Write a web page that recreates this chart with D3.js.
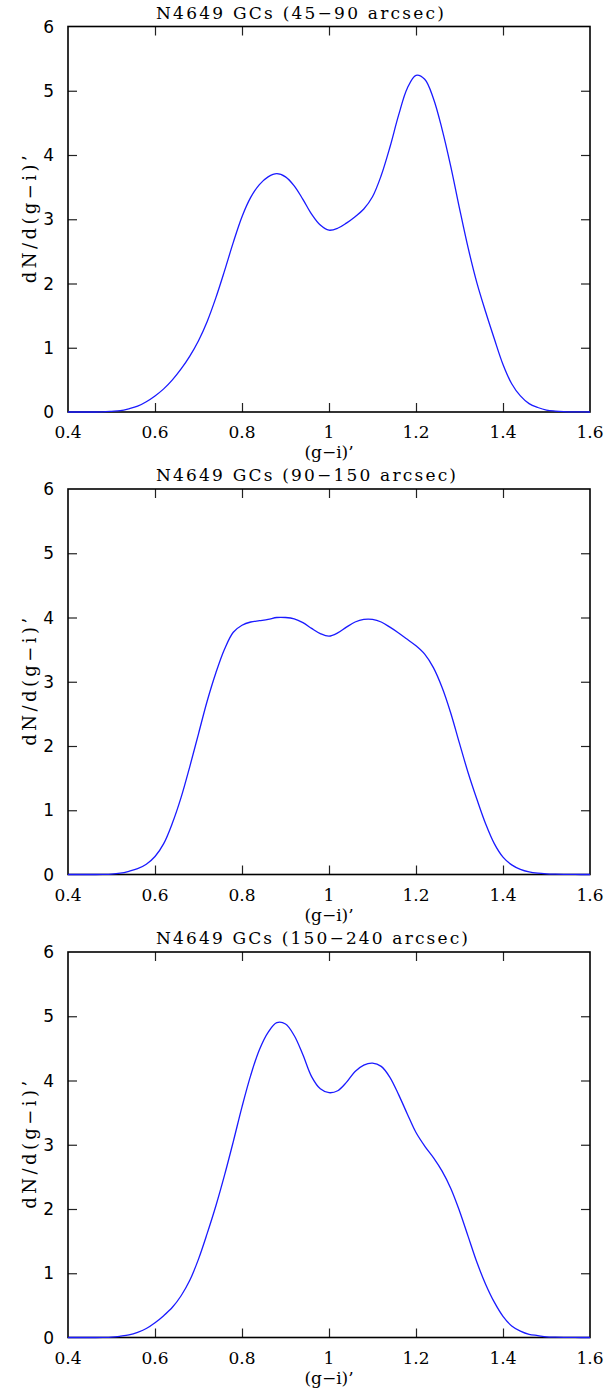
<!DOCTYPE html>
<html><head><meta charset="utf-8">
<script src="https://cdn.jsdelivr.net/npm/d3@7/dist/d3.min.js"></script>
<style>body{margin:0;background:#fff}svg{display:block}</style>
</head><body>
<svg id="chart" width="610" height="1391"></svg>
<script>
// ---- data ----
const titles = ["N4649 GCs (45\u221290 arcsec)", "N4649 GCs (90\u2212150 arcsec)", "N4649 GCs (150\u2212240 arcsec)"];
const xLabel = "(g\u2212i)\u2019";
const yLabel = "dN/d(g\u2212i)\u2019";
const xTicks = [0.4, 0.6, 0.8, 1.0, 1.2, 1.4, 1.6];
const xTickLabels = ["0.4", "0.6", "0.8", "1", "1.2", "1.4", "1.6"];
const yTicks = [0, 1, 2, 3, 4, 5, 6];
const yTickLabels = ["0", "1", "2", "3", "4", "5", "6"];
const colour = [0.40,0.42,0.44,0.46,0.48,0.50,0.52,0.54,0.56,0.58,
  0.60,0.62,0.64,0.66,0.68,0.70,0.72,0.74,0.76,0.78,
  0.80,0.82,0.84,0.86,0.88,0.90,0.92,0.94,0.96,0.98,
  1.00,1.02,1.04,1.06,1.08,1.10,1.12,1.14,1.16,1.18,
  1.20,1.22,1.24,1.26,1.28,1.30,1.32,1.34,1.36,1.38,
  1.40,1.42,1.44,1.46,1.48,1.50,1.52,1.54,1.56,1.58,1.60];
const density45_90 = [0,0,0,0,0.002,0.01,0.02,0.05,0.09,0.16,
  0.25,0.36,0.50,0.67,0.87,1.11,1.41,1.78,2.20,2.64,
  3.04,3.34,3.54,3.66,3.71,3.66,3.52,3.31,3.08,2.91,
  2.83,2.86,2.94,3.04,3.16,3.35,3.68,4.12,4.62,5.04,
  5.24,5.18,4.88,4.40,3.82,3.17,2.55,2.01,1.56,1.14,
  0.74,0.44,0.25,0.13,0.07,0.03,0.015,0.007,0.003,0.001,0];
const density90_150 = [0,0,0,0,0.001,0.005,0.02,0.05,0.09,0.16,
  0.28,0.48,0.80,1.20,1.68,2.19,2.70,3.14,3.51,3.77,
  3.88,3.93,3.95,3.97,4.00,4.00,3.98,3.92,3.83,3.75,
  3.71,3.76,3.85,3.93,3.97,3.97,3.93,3.85,3.76,3.66,
  3.56,3.43,3.22,2.91,2.51,2.04,1.58,1.17,0.79,0.48,
  0.27,0.15,0.08,0.04,0.02,0.01,0.005,0.002,0.001,0,0];
const density150_240 = [0,0,0,0,0.001,0.005,0.02,0.04,0.08,0.14,
  0.23,0.34,0.47,0.65,0.89,1.22,1.62,2.05,2.53,3.05,
  3.59,4.08,4.48,4.75,4.90,4.88,4.70,4.40,4.06,3.87,
  3.81,3.84,3.97,4.14,4.24,4.27,4.22,4.05,3.78,3.48,
  3.19,2.98,2.80,2.59,2.32,1.97,1.57,1.17,0.83,0.55,
  0.33,0.18,0.10,0.05,0.03,0.01,0.005,0.002,0.001,0,0];
const panels = [density45_90, density90_150, density150_240];

// ---- layout ----
const svg = d3.select("#chart");
const left = 68, right = 590, plotH = 385.5;
const tops = [26.5, 489, 952];
const titleW = [288, 300, 312];
const x = d3.scaleLinear().domain([0.4, 1.6]).range([left, right]);

panels.forEach((vals, i) => {
  const top = tops[i], bottom = top + plotH;
  const y = d3.scaleLinear().domain([0, 6]).range([bottom, top]);
  const g = svg.append("g");

  // ticks (inward, all four sides)
  const tl = 9;
  const xt = xTicks.slice(1, -1);
  const yt = yTicks.slice(1, -1);
  g.append("g").attr("transform", `translate(0,${bottom})`)
    .call(d3.axisTop(x).tickValues(xt).tickSize(tl).tickFormat(""))
    .call(s => s.select(".domain").remove());
  g.append("g").attr("transform", `translate(0,${top})`)
    .call(d3.axisBottom(x).tickValues(xt).tickSize(tl).tickFormat(""))
    .call(s => s.select(".domain").remove());
  g.append("g").attr("transform", `translate(${left},0)`)
    .call(d3.axisRight(y).tickValues(yt).tickSize(tl).tickFormat(""))
    .call(s => s.select(".domain").remove());
  g.append("g").attr("transform", `translate(${right},0)`)
    .call(d3.axisLeft(y).tickValues(yt).tickSize(tl).tickFormat(""))
    .call(s => s.select(".domain").remove());
  g.selectAll(".tick line").attr("stroke", "#222").attr("stroke-width", 1.2);

  // frame
  g.append("rect").attr("x", left).attr("y", top)
    .attr("width", right - left).attr("height", plotH)
    .attr("fill", "none").attr("stroke", "#000").attr("stroke-width", 1.6);

  // x tick labels
  g.selectAll(".xl").data(xTicks).enter().append("text")
    .attr("x", d => x(d)).attr("y", bottom + 26)
    .attr("text-anchor", "middle")
    .attr("font-family", "DejaVu Serif").attr("font-size", 17)
    .text((d, j) => xTickLabels[j]);

  // y tick labels
  g.selectAll(".yl").data(yTicks).enter().append("text")
    .attr("x", left - 14).attr("y", d => y(d) + 6)
    .attr("text-anchor", "end")
    .attr("font-family", "DejaVu Sans").attr("font-size", 17)
    .text((d, j) => yTickLabels[j]);

  // title
  g.append("text").attr("x", 156).attr("y", top - 8)
    .attr("font-family", "DejaVu Serif").attr("font-size", 17)
    .attr("textLength", titleW[i]).attr("lengthAdjust", "spacing")
    .text(titles[i]);

  // x label
  g.append("text").attr("x", (left + right) / 2).attr("y", bottom + 46)
    .attr("text-anchor", "middle")
    .attr("font-family", "DejaVu Serif").attr("font-size", 17)
    .text(xLabel);

  // y label
  g.append("text")
    .attr("transform", `translate(36,${(top + bottom) / 2}) rotate(-90)`)
    .attr("text-anchor", "middle")
    .attr("font-family", "DejaVu Serif").attr("font-size", 18)
    .attr("textLength", 128).attr("lengthAdjust", "spacing")
    .text(yLabel);

  // curve
  const line = d3.line().x((d, j) => x(colour[j])).y(d => y(d)).curve(d3.curveCatmullRom.alpha(0.5));
  g.append("path").datum(vals)
    .attr("d", line).attr("fill", "none")
    .attr("stroke", "#1a1aff").attr("stroke-width", 1.3);
});
</script>
</body></html>
